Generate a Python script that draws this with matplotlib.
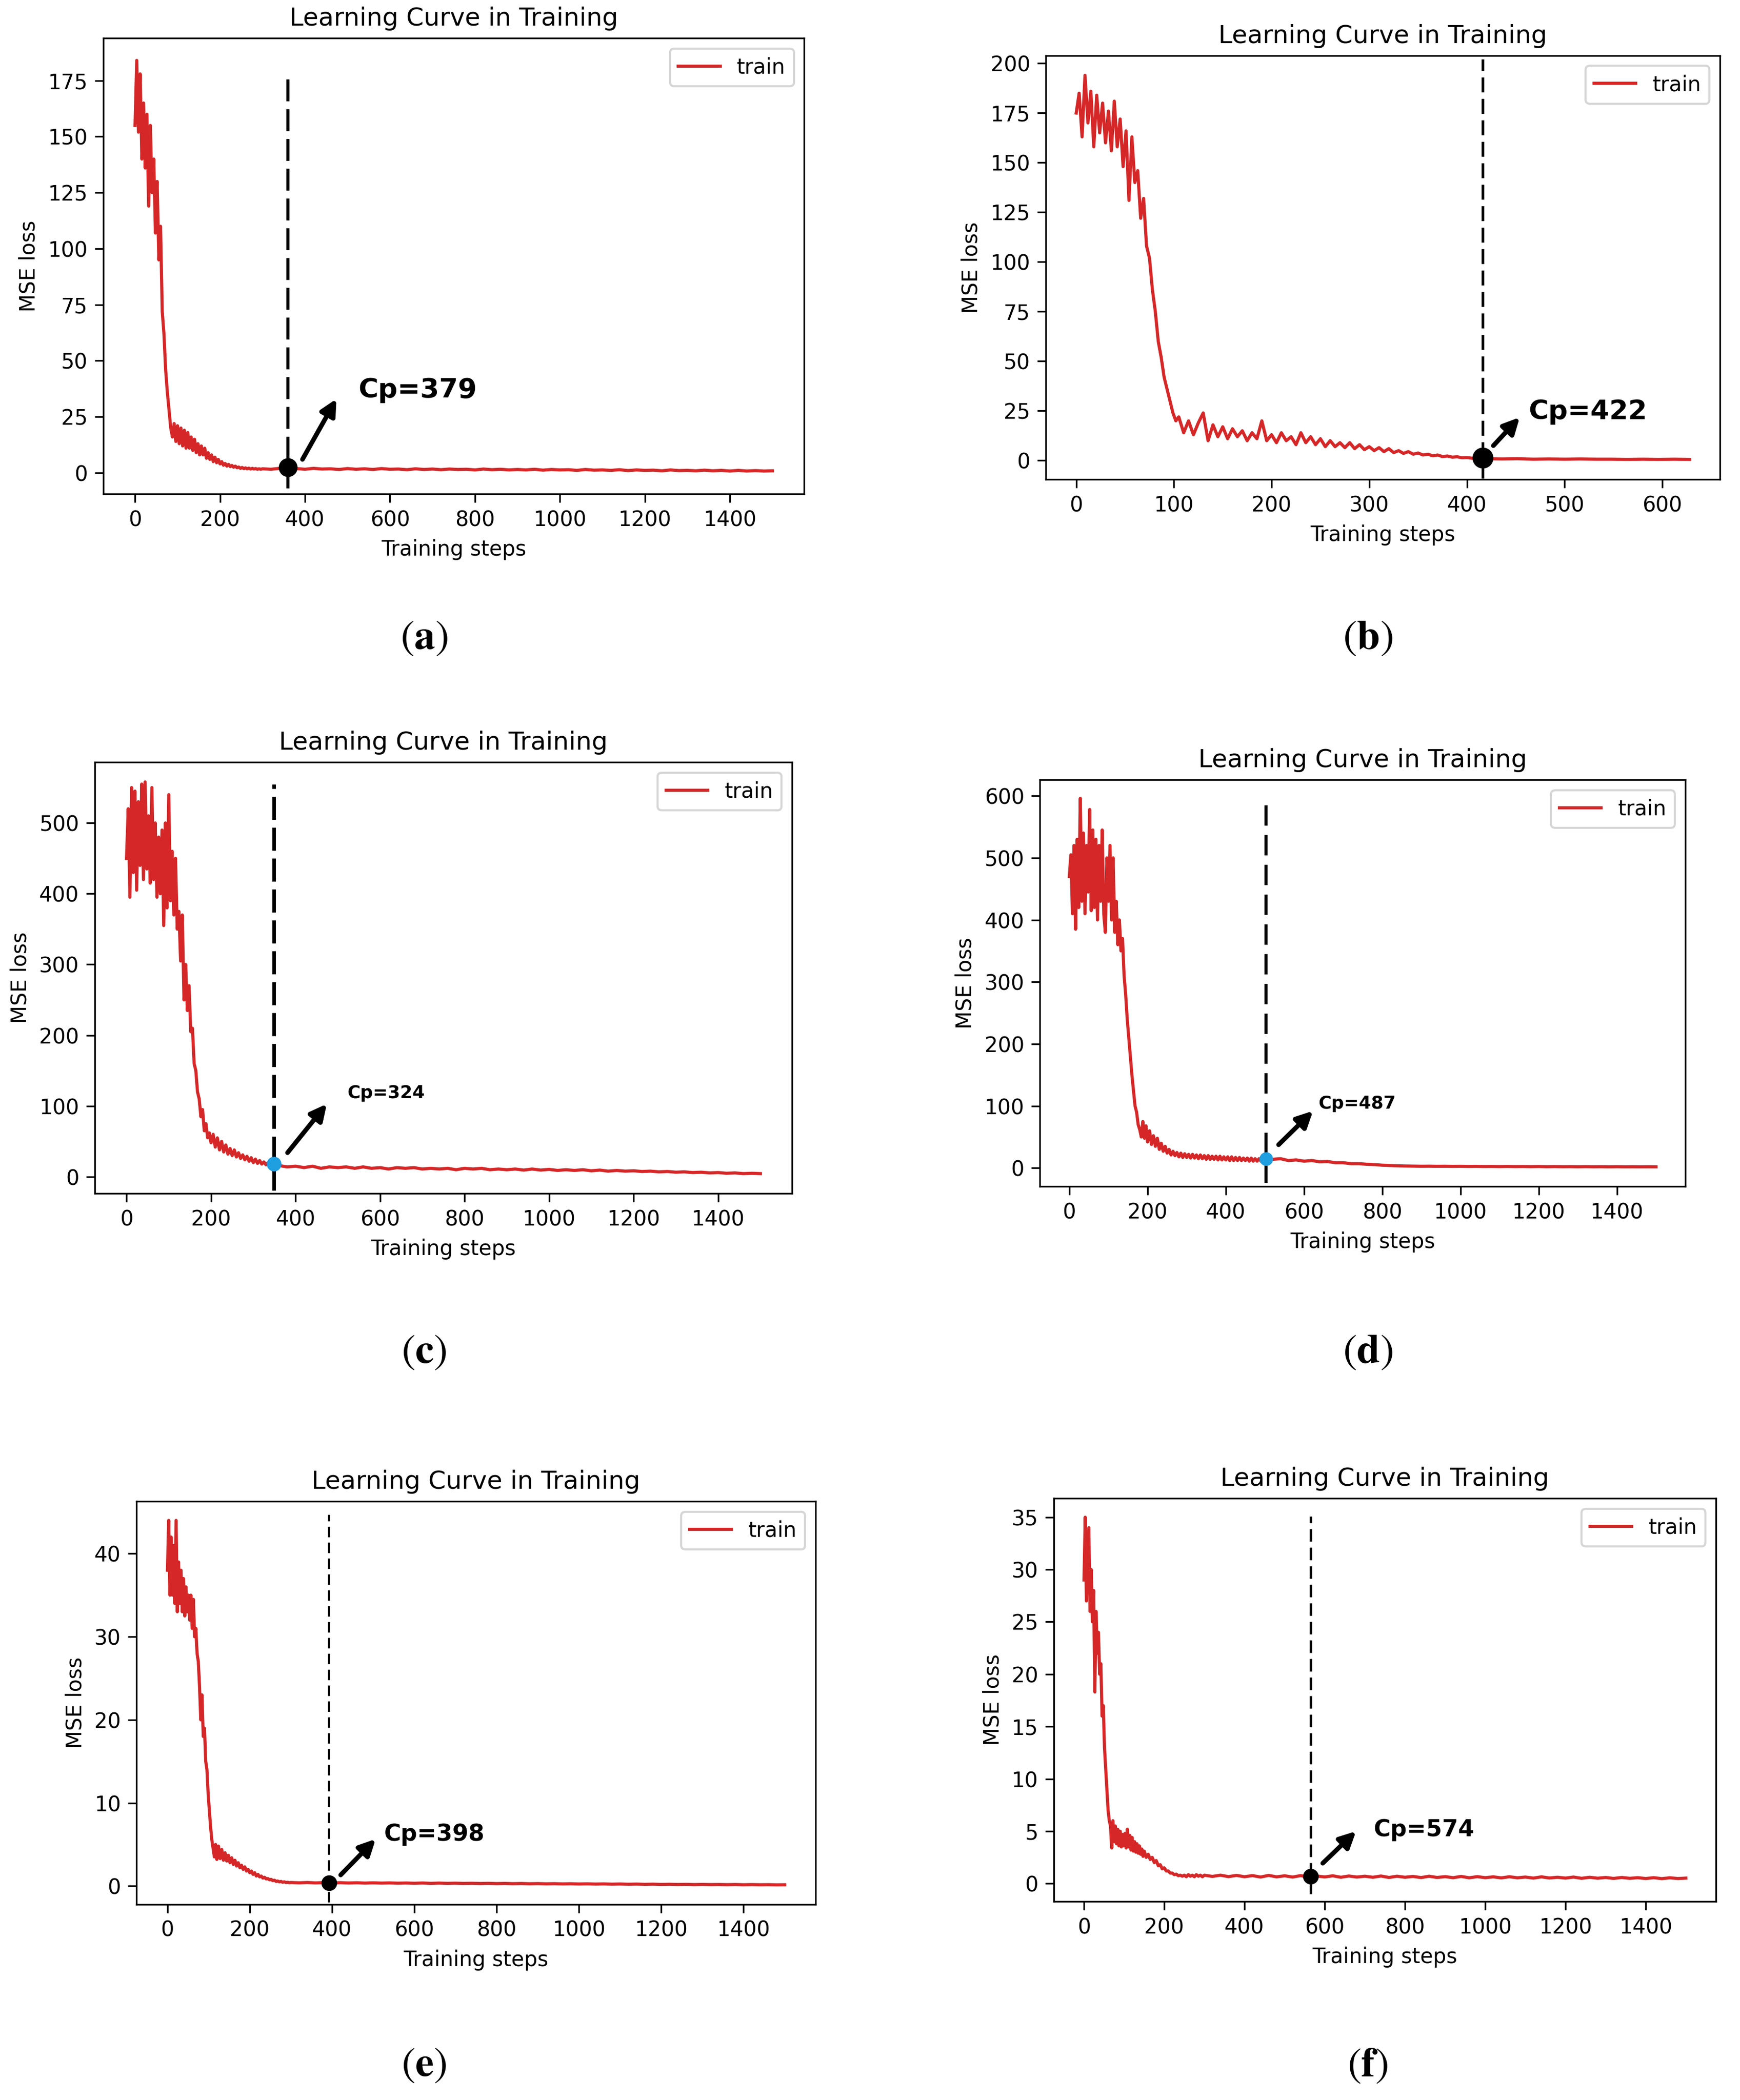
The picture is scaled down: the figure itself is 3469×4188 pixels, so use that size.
import numpy as np
import matplotlib.pyplot as plt
from matplotlib.ticker import MultipleLocator

plt.rcParams['font.family'] = 'DejaVu Sans'
plt.rcParams['mathtext.fontset'] = 'stix'

RED = '#d62728'
BLUE = '#1f9ee0'

# ---- (MSE loss per training step) ----
# (a) steps 0-300 every 4, 320-1500 every 20
a_early = [155, 184, 152, 178, 140, 165, 136, 160, 119, 155, 125, 140, 107, 130, 95, 110,
           72, 62, 46, 36, 28, 20, 16, 22, 14, 21, 13, 20, 12, 19, 11, 18, 11, 16, 10, 15,
           9, 13, 8, 12, 8, 11, 6.5, 9, 6, 8, 5, 7, 4.5, 6, 4, 5, 3.4, 4.2, 3, 3.8, 2.8,
           3.3, 2.5, 3, 2.3, 2.6, 2, 2.4, 1.9, 2.2, 1.8, 2.1, 1.7, 2, 1.7, 1.9, 1.6, 1.8,
           1.6, 1.8]
a_late = [1.6, 2.0, 1.7, 1.9, 1.6, 2.0, 1.7, 1.8, 1.5, 1.9,
          1.6, 1.8, 1.5, 1.9, 1.6, 1.7, 1.4, 1.8, 1.5, 1.7,
          1.4, 1.7, 1.5, 1.6, 1.3, 1.7, 1.4, 1.6, 1.3, 1.5,
          1.3, 1.6, 1.2, 1.5, 1.3, 1.4, 1.1, 1.5, 1.2, 1.3,
          1.1, 1.4, 1.0, 1.3, 1.1, 1.2, 0.9, 1.3, 1.0, 1.1,
          0.9, 1.2, 0.9, 1.1, 0.8, 1.1, 0.8, 1.0, 0.8, 0.9]

# (b) steps 0-105 every 3, 110-415 every 5, 420-628 every 16
b_early = [175, 185, 163, 194, 170, 186, 158, 184, 165, 180, 160, 176, 156, 181, 158, 172,
           148, 166, 131, 163, 140, 146, 122, 132, 108, 102, 86, 75, 60, 52, 42, 36, 30,
           24, 20, 22]
b_mid = [14, 20, 13, 19, 24, 10, 18, 12, 17, 11, 16, 12, 15, 10, 14, 11, 20, 10, 13, 9,
         14, 10, 12, 8, 14, 9, 12, 8, 11, 7, 10, 7, 9, 6.5, 9, 6, 8, 5.5, 7, 5, 6.5, 4.5,
         6, 4, 5, 3.6, 4.5, 3.2, 3.8, 2.8, 3.2, 2.4, 2.8, 2, 2.3, 1.7, 1.9, 1.4, 1.5, 1.2,
         1.3, 1.0]
b_late = [0.9, 0.8, 0.9, 0.7, 0.8, 0.7, 0.8, 0.7, 0.7, 0.6, 0.7, 0.6, 0.7, 0.6]

# (c) steps 0-200 every 4, 205-345 every 5, 360-1500 every 20
c_early = [450, 520, 395, 550, 430, 545, 405, 530, 440, 555, 420, 558, 435, 510, 415, 550,
           420, 500, 395, 480, 400, 490, 355, 500, 380, 540, 390, 460, 370, 450, 350, 375,
           305, 370, 250, 300, 235, 270, 205, 210, 160, 150, 120, 110, 85, 95, 65, 75, 55,
           62, 48]
c_mid = [60, 42, 55, 38, 50, 35, 45, 32, 40, 30, 38, 28, 34, 26, 31, 24, 29, 22, 27, 20,
         25, 19, 23, 18, 21, 17, 20, 17, 18]
c_late = [16, 14, 15, 13, 15, 12, 14, 13, 14, 12,
          14, 12, 13, 11, 13, 12, 13, 11, 12, 11,
          12, 10, 12, 11, 12, 10, 11, 10, 11, 9.5,
          11, 9.5, 10.5, 9, 10, 9, 10, 8.5, 9.5, 8,
          9, 8, 8.5, 7.5, 8, 7, 7.5, 6.5, 7, 6,
          6.5, 5.5, 6, 5, 5.5, 4.5, 5, 4.5]

# (d) steps 0-200 every 4, 205-495 every 5, 520-1500 every 20
d_early = [470, 505, 410, 520, 385, 530, 420, 596, 430, 540, 410, 520, 445, 578, 415, 545,
           420, 530, 400, 520, 430, 545, 410, 380, 500, 430, 520, 400, 500, 380, 430, 360,
           400, 350, 370, 310, 280, 240, 210, 180, 150, 125, 100, 90, 70, 62, 50, 75, 48,
           68, 42]
d_mid = [60, 38, 52, 35, 48, 30, 40, 27, 35, 24, 30, 21, 27, 20, 25, 18, 24, 17, 23, 17,
         22, 16, 22, 16, 21, 15, 21, 15, 20, 14, 20, 14, 19, 14, 19, 13, 19, 13, 18, 13,
         18, 12, 18, 12, 17, 12, 17, 12, 16, 12, 16, 11, 16, 11, 15, 11, 15, 11, 14]
d_late = [14, 15, 12, 13, 11, 12, 10, 10.5, 8.5, 8.5,
          7, 7, 6, 5.5, 4.5, 4, 3.5, 3.2, 3, 2.8,
          2.9, 2.7, 2.8, 2.6, 2.7, 2.5, 2.6, 2.4, 2.5, 2.3,
          2.5, 2.3, 2.4, 2.2, 2.4, 2.1, 2.3, 2.1, 2.2, 2.0,
          2.2, 2.0, 2.1, 1.9, 2.1, 1.9, 2.0, 1.9, 2.0, 1.9]

# (e) steps 0-120 every 3, 124-300 every 4, 320-1500 every 20
e_early = [38, 44, 35, 42, 35, 41, 34, 44, 33, 39, 34, 38, 33, 37, 32.5, 36, 33, 35, 32,
           35, 31, 34.5, 30, 31, 28, 27, 24, 20, 23, 18, 19, 15, 14, 11, 9, 7, 5.5, 4.5,
           3.5, 5, 3.2]
e_mid = [4.8, 3.3, 4.4, 3.1, 4, 3, 3.7, 2.8, 3.4, 2.6, 3.1, 2.4, 2.8, 2.2, 2.5, 2, 2.3,
         1.8, 2, 1.6, 1.8, 1.4, 1.6, 1.2, 1.4, 1.1, 1.2, 0.95, 1.05, 0.85, 0.9, 0.75, 0.8,
         0.65, 0.7, 0.55, 0.6, 0.5, 0.55, 0.45, 0.5, 0.42, 0.45, 0.4, 0.42]
e_late = [0.38, 0.42, 0.37, 0.41, 0.36, 0.40, 0.36, 0.39, 0.35, 0.38,
          0.35, 0.37, 0.34, 0.36, 0.33, 0.36, 0.32, 0.35, 0.32, 0.34,
          0.31, 0.33, 0.30, 0.32, 0.29, 0.31, 0.28, 0.30, 0.27, 0.29,
          0.26, 0.28, 0.25, 0.27, 0.24, 0.26, 0.23, 0.25, 0.22, 0.24,
          0.21, 0.23, 0.20, 0.22, 0.19, 0.21, 0.18, 0.20, 0.17, 0.19,
          0.17, 0.18, 0.16, 0.18, 0.15, 0.17, 0.15, 0.16, 0.14, 0.15]

# (f) steps 0-150 every 3, 155-300 every 5, 320-1500 every 20
f_early = [29, 35, 27, 31, 34, 26, 30, 25, 28, 18.3, 26, 22, 24, 20, 21, 16, 17, 13, 11, 9,
           7, 6, 5.5, 3.4, 6, 4, 5.5, 3.8, 5.2, 3.6, 5, 3.5, 4.7, 3.6, 4.8, 3.4, 5.2, 3.5,
           4.6, 3.2, 4.4, 3.1, 4, 3, 3.8, 2.9, 3.6, 2.8, 3.3, 2.6, 3.1]
f_mid = [2.5, 2.8, 2.3, 2.5, 2, 2.2, 1.7, 1.8, 1.4, 1.5, 1.2, 1.2, 1.0, 1.0, 0.85, 0.9,
         0.75, 0.8, 0.7, 0.8, 0.65, 0.85, 0.7, 0.8, 0.65, 0.85, 0.7, 0.8, 0.65, 0.8]
f_late = [0.68, 0.80, 0.66, 0.78, 0.65, 0.76, 0.62, 0.78, 0.64, 0.74,
          0.62, 0.76, 0.60, 0.72, 0.63, 0.74, 0.60, 0.72, 0.62, 0.70,
          0.60, 0.72, 0.58, 0.70, 0.60, 0.68, 0.57, 0.70, 0.58, 0.66,
          0.56, 0.68, 0.55, 0.66, 0.56, 0.64, 0.54, 0.65, 0.55, 0.62,
          0.52, 0.64, 0.53, 0.60, 0.52, 0.62, 0.50, 0.60, 0.51, 0.58,
          0.49, 0.58, 0.50, 0.56, 0.48, 0.56, 0.47, 0.55, 0.48, 0.52]

# change point marked on each panel
cp_labels = ['Cp=379', 'Cp=422', 'Cp=324', 'Cp=487', 'Cp=398', 'Cp=574']
cp_steps = [360, 416, 349, 503, 393, 565]
cp_loss = [2.5, 1.3, 18, 15, 0.4, 0.7]
panel_tags = ['a', 'b', 'c', 'd', 'e', 'f']


def steps(x0, dx, vals):
    return x0 + dx * np.arange(len(vals))


def curve(*segs):
    xs = np.concatenate([steps(x0, dx, v) for x0, dx, v in segs])
    ys = np.concatenate([np.asarray(v, float) for x0, dx, v in segs])
    return xs, ys


curves = [
    curve((0, 4, a_early), (320, 20, a_late)),
    curve((0, 3, b_early), (110, 5, b_mid), (420, 16, b_late)),
    curve((0, 4, c_early), (205, 5, c_mid), (360, 20, c_late)),
    curve((0, 4, d_early), (205, 5, d_mid), (520, 20, d_late)),
    curve((0, 3, e_early), (124, 4, e_mid), (320, 20, e_late)),
    curve((0, 3, f_early), (155, 5, f_mid), (320, 20, f_late)),
]

# layout / styling per panel
rects = [[0.0593, 0.7647, 0.4029, 0.2172],
         [0.6011, 0.7717, 0.3874, 0.2019],
         [0.0545, 0.4317, 0.4007, 0.2054],
         [0.5977, 0.4351, 0.3709, 0.1936],
         [0.0785, 0.0932, 0.3902, 0.1919],
         [0.6057, 0.0946, 0.3805, 0.1919]]
xlims = [(-75, 1575), (-31, 659), (-75, 1575), (-75, 1575), (-75, 1575), (-75, 1575)]
ylims = [(-9.5, 194), (-9.5, 204), (-23.5, 586), (-29.5, 626), (-2.2, 46.3), (-1.7, 36.8)]
xsteps = [200, 100, 200, 200, 200, 200]
ysteps = [25, 25, 100, 100, 10, 5]
vspans = [(-7, 178), (-9, 202), (-19, 555), (-24, 585), (-2, 44.7), (-1.0, 35.1)]
vstyles = [((0, (7, 2.5)), 1.5), ((0, (5.5, 2.4)), 1.3), ((0, (6.5, 2.2)), 1.7),
           ((0, (6.5, 3)), 1.5), ((0, (5, 2.6)), 1.0), ((0, (5, 2.4)), 1.2)]
dot_colors = ['k', 'k', BLUE, BLUE, 'k', 'k']
dot_sizes = [8, 9, 6, 5.5, 6.5, 6.5]
arrow_tails = [(394, 6), (427, 7.5), (381, 34), (535, 37.5), (421, 1.33), (595, 1.94)]
arrow_heads = [(474, 33), (454, 21.8), (474, 103), (623, 92), (506, 5.65), (678, 5.0)]
text_pos = [(525, 37), (463, 24.5), (522, 118), (637, 104), (527, 6.2), (722, 5.1)]
text_sizes = [13, 13, 8.5, 8.5, 11, 11]
tag_pos = [(0.2438, 0.6955), (0.786, 0.6955), (0.2438, 0.3554), (0.786, 0.3554),
           (0.2438, 0.0159), (0.786, 0.0159)]

fig = plt.figure(figsize=(3469 / 300, 4188 / 300), dpi=300)

for i in range(6):
    ax = fig.add_axes(rects[i])
    xs, ys = curves[i]
    ax.plot(xs, ys, color=RED, lw=1.5, label='train')
    ls, lw = vstyles[i]
    ax.vlines(cp_steps[i], vspans[i][0], vspans[i][1], colors='k', linestyles=ls, lw=lw)
    ax.plot(cp_steps[i], cp_loss[i], 'o', color=dot_colors[i], ms=dot_sizes[i], zorder=5)
    ax.annotate('', xy=arrow_heads[i], xytext=arrow_tails[i],
                arrowprops=dict(arrowstyle='-|>', color='k', lw=2.2,
                                mutation_scale=16, shrinkA=0, shrinkB=0))
    ax.text(text_pos[i][0], text_pos[i][1], cp_labels[i], fontsize=text_sizes[i],
            fontweight='bold', ha='left', va='center')
    ax.set_xlim(*xlims[i])
    ax.set_ylim(*ylims[i])
    ax.xaxis.set_major_locator(MultipleLocator(xsteps[i]))
    ax.yaxis.set_major_locator(MultipleLocator(ysteps[i]))
    ax.tick_params(labelsize=10, length=4)
    ax.set_title('Learning Curve in Training', fontsize=12)
    ax.set_xlabel('Training steps', fontsize=10)
    ax.set_ylabel('MSE loss', fontsize=10)
    ax.legend(loc='upper right', fontsize=10)
    fig.text(tag_pos[i][0], tag_pos[i][1], r'($\mathbf{%s}$)' % panel_tags[i],
             fontsize=20, family='STIXGeneral', ha='center', va='center')

plt.savefig('out.png', dpi=300)
